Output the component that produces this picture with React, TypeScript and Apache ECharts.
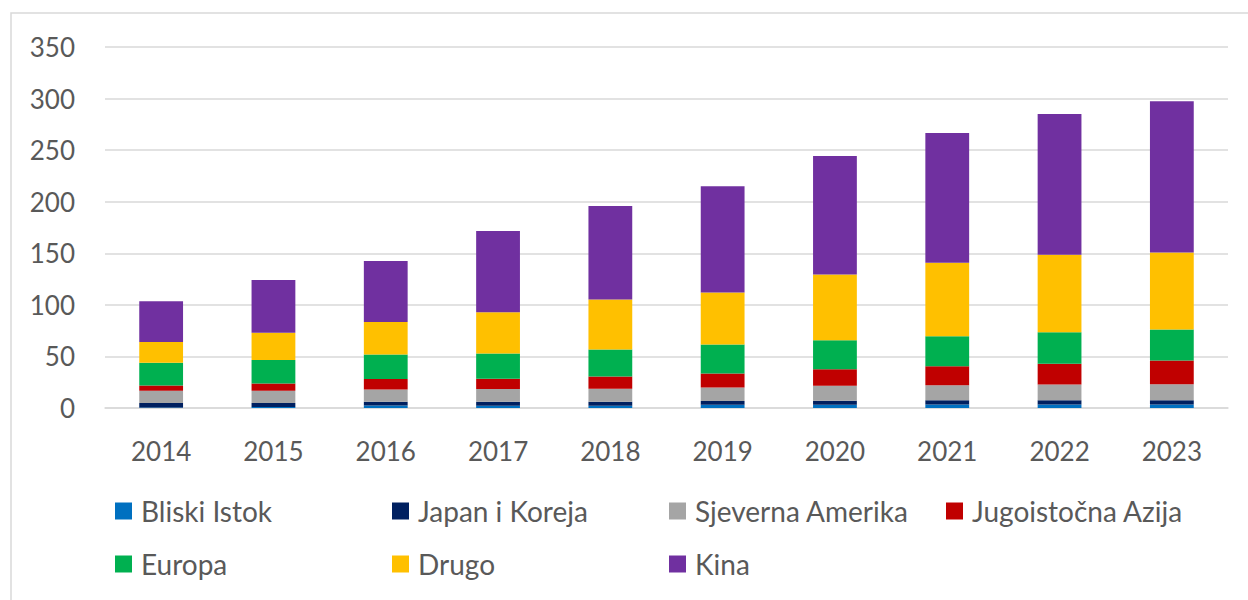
import React, { useEffect, useRef } from "react";
import * as echarts from "echarts";

const years = ["2014", "2015", "2016", "2017", "2018", "2019", "2020", "2021", "2022", "2023"];
const seriesNames = ["Bliski Istok", "Japan i Koreja", "Sjeverna Amerika", "Jugoistočna Azija", "Europa", "Drugo", "Kina"];
const colors = ["#0070C0", "#002060", "#A5A5A5", "#C00000", "#00B050", "#FFC000", "#7030A0"];

const bliskiIstok = [0.5, 1, 2.5, 2.2, 2.2, 3.2, 3.1, 3.4, 3.4, 3.4];
const japanKoreja = [4.3, 3.8, 3.6, 3.9, 3.9, 3.6, 3.9, 4.2, 4.2, 4.2];
const sjevernaAmerika = [11.9, 11.9, 11.9, 12.3, 12.6, 13.1, 14.5, 14.5, 15.1, 15.4];
const jugoistocnaAzija = [5.2, 7.1, 10.1, 10, 11.9, 13.6, 16.1, 18.4, 20.1, 23];
const europa = [22, 22.7, 23.8, 24.5, 26.1, 28.1, 28, 29, 30.6, 30];
const drugo = [20, 26.4, 31.6, 40, 48.4, 50.3, 63.9, 71.4, 75.2, 74.8];
const kina = [39.7, 51.3, 59.1, 78.8, 90.7, 103.1, 114.9, 125.7, 136.4, 146.7];

const allValues = [bliskiIstok, japanKoreja, sjevernaAmerika, jugoistocnaAzija, europa, drugo, kina];

const FONT = "Lato";
const TEXT = "#595959";

const legendCols = [110, 387, 664, 941];
const legendRows = [492, 545];

export default function App() {
  const ref = useRef<HTMLDivElement>(null);
  useEffect(() => {
    if (!ref.current) return;
    const chart = echarts.init(ref.current, undefined, { renderer: "svg" });
    const legends = seriesNames.map((name, i) => ({
      data: [name],
      left: legendCols[i % 4],
      top: legendRows[Math.floor(i / 4)],
      itemWidth: 17,
      itemHeight: 17,
      itemGap: 0,
      icon: "rect",
      textStyle: { fontFamily: FONT, fontSize: 28, color: TEXT, padding: [0, 0, 0, 4] },
    }));
    chart.setOption({
      animation: false,
      backgroundColor: "#fff",
      graphic: [
        {
          type: "rect",
          shape: { x: 11, y: 13, width: 1250, height: 600 },
          style: { fill: "none", stroke: "#D9D9D9", lineWidth: 1.5 },
          silent: true,
        },
      ],
      grid: { left: 105, right: 20, top: 47, bottom: 192 },
      legend: legends,
      xAxis: {
        type: "category",
        data: years,
        axisLine: { lineStyle: { color: "#D9D9D9", width: 1.5 } },
        axisTick: { show: false },
        axisLabel: { fontFamily: FONT, fontSize: 26, color: TEXT, margin: 30 },
      },
      yAxis: {
        type: "value",
        min: 0,
        max: 350,
        interval: 50,
        axisLine: { show: false },
        axisTick: { show: false },
        splitLine: { lineStyle: { color: "#D9D9D9", width: 1.5 } },
        axisLabel: { fontFamily: FONT, fontSize: 26, color: TEXT, margin: 30 },
      },
      series: seriesNames.map((name, i) => ({
        name,
        type: "bar",
        stack: "total",
        barWidth: "39%",
        data: allValues[i],
        itemStyle: { color: colors[i] },
      })),
    });
    return () => chart.dispose();
  }, []);
  return (
    <div
      ref={ref}
      style={{ position: "absolute", left: 0, top: 0, width: 1248, height: 600 }}
    />
  );
}
